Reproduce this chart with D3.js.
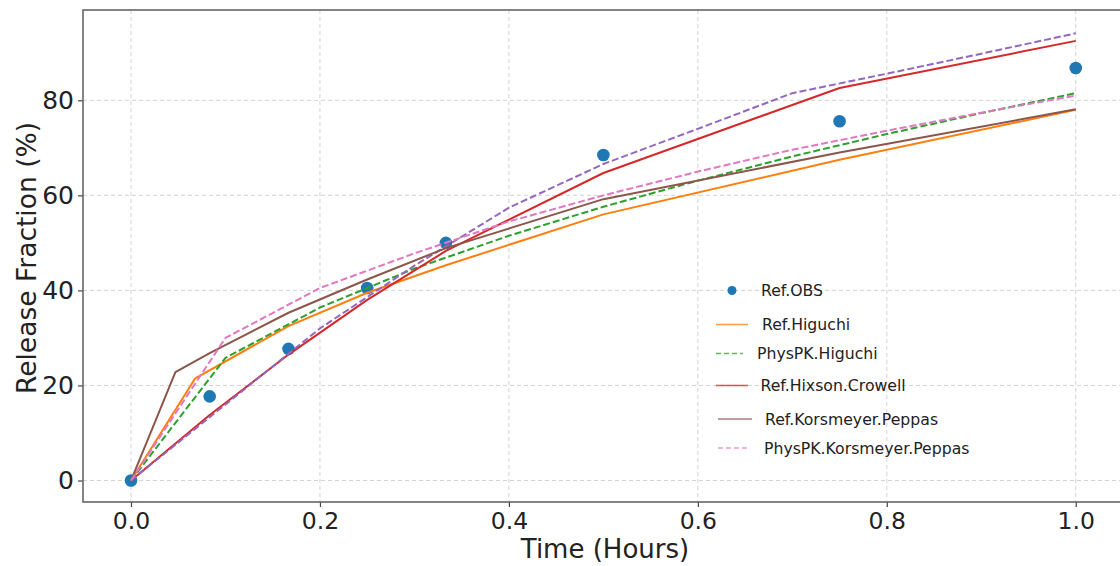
<!DOCTYPE html>
<html>
<head>
<meta charset="utf-8">
<script src="https://cdn.jsdelivr.net/npm/d3@7"></script>
<style>
  html, body { margin: 0; padding: 0; background: #fff; }
  svg { display: block; }
  text { font-family: "DejaVu Sans", sans-serif; }
</style>
</head>
<body>
<svg id="chart" width="1120" height="566"></svg>
<script>
// ---------- data ----------
const obsTime = [0, 0.0833, 0.1667, 0.25, 0.3333, 0.5, 0.75, 1.0];
const obsRelease = [0, 17.7, 27.7, 40.5, 50.0, 68.5, 75.6, 86.8];

const refHiguchiTime = [0, 0.068, 0.1667, 0.25, 0.3333, 0.5, 0.75, 1.0];
const refHiguchi = [0, 21.5, 32.5, 39.5, 45.3, 56.0, 67.5, 78.0];

const physTime = [0, 0.1, 0.2, 0.3, 0.4, 0.5, 0.6, 0.7, 0.8, 0.9, 1.0];
const physHiguchi = [0, 25.8, 36.4, 44.6, 51.5, 57.6, 63.1, 68.2, 72.9, 77.3, 81.5];

const refHixsonTime = [0, 0.0833, 0.1667, 0.25, 0.3333, 0.5, 0.75, 1.0];
const refHixson = [0, 13.8, 26.5, 38.0, 48.3, 64.7, 82.6, 92.5];

const physHixson = [0, 16.0, 32.0, 45.2, 57.4, 66.6, 74.0, 81.5, 85.6, 89.8, 94.1];

const refKPTime = [0, 0.047, 0.0833, 0.1667, 0.25, 0.3333, 0.5, 0.75, 1.0];
const refKP = [0, 22.8, 26.8, 35.3, 42.3, 48.9, 59.2, 69.0, 78.1];

const physKP = [0, 30.0, 40.5, 47.8, 54.5, 60.0, 65.0, 69.6, 73.6, 77.4, 81.0];

const xTicks = [0, 0.2, 0.4, 0.6, 0.8, 1.0];
const yTicks = [0, 20, 40, 60, 80];

const xLabel = "Time (Hours)";
const yLabel = "Release Fraction (%)";

// ---------- series definitions ----------
const series = [
  { name: "Ref.Higuchi", t: refHiguchiTime, v: refHiguchi, color: "#ff7f0e", dash: null, legend: true },
  { name: "PhysPK.Higuchi", t: physTime, v: physHiguchi, color: "#2ca02c", dash: "7,3", legend: true },
  { name: "Ref.Hixson.Crowell", t: refHixsonTime, v: refHixson, color: "#d62728", dash: null, legend: true },
  { name: "PhysPK.Hixson.Crowell", t: physTime, v: physHixson, color: "#9467bd", dash: "7,3", legend: false },
  { name: "Ref.Korsmeyer.Peppas", t: refKPTime, v: refKP, color: "#8c564b", dash: null, legend: true },
  { name: "PhysPK.Korsmeyer.Peppas", t: physTime, v: physKP, color: "#e377c2", dash: "7,3", legend: true }
];

// ---------- layout ----------
const svg = d3.select("#chart");
const plot = { left: 83, right: 1123, top: 10, bottom: 502 };

const x = d3.scaleLinear().domain([-0.0508, 1.05]).range([plot.left, plot.right]);
const y = d3.scaleLinear().domain([-4.52, 99.0]).range([plot.bottom, plot.top]);

svg.append("rect").attr("width", 1120).attr("height", 566).attr("fill", "#fff");

// grid
const grid = svg.append("g");
grid.selectAll("line.gx").data(xTicks).enter().append("line")
  .attr("x1", d => x(d)).attr("x2", d => x(d))
  .attr("y1", plot.top).attr("y2", plot.bottom)
  .attr("stroke", "#d3d3d3").attr("stroke-width", 1).attr("stroke-dasharray", "4,3");
grid.selectAll("line.gy").data(yTicks).enter().append("line")
  .attr("x1", plot.left).attr("x2", plot.right)
  .attr("y1", d => y(d)).attr("y2", d => y(d))
  .attr("stroke", "#d3d3d3").attr("stroke-width", 1).attr("stroke-dasharray", "4,3");

// observed points (plotted first)
svg.append("g").selectAll("circle").data(obsTime.map((t, i) => [t, obsRelease[i]]))
  .enter().append("circle")
  .attr("cx", d => x(d[0])).attr("cy", d => y(d[1])).attr("r", 6.3)
  .attr("fill", "#1f77b4");

// model lines
const line = d3.line().x(d => x(d[0])).y(d => y(d[1]));
series.forEach(s => {
  svg.append("path")
    .datum(s.t.map((t, i) => [t, s.v[i]]))
    .attr("d", line)
    .attr("fill", "none")
    .attr("stroke", s.color)
    .attr("stroke-width", 2)
    .attr("stroke-dasharray", s.dash)
    .attr("stroke-linejoin", "round");
});

// axes
const xAxis = d3.axisBottom(x).tickValues(xTicks).tickFormat(d3.format(".1f")).tickSize(5).tickPadding(5);
const yAxis = d3.axisLeft(y).tickValues(yTicks).tickFormat(d3.format("d")).tickSize(5).tickPadding(4);

const gx = svg.append("g").attr("transform", `translate(0,${plot.bottom})`).call(xAxis);
const gy = svg.append("g").attr("transform", `translate(${plot.left},0)`).call(yAxis);
[gx, gy].forEach(g => {
  g.select(".domain").remove();
  g.selectAll(".tick line").attr("stroke", "#444").attr("stroke-width", 1.2);
  g.selectAll(".tick text").attr("fill", "#222")
    .style("font-family", "DejaVu Sans, sans-serif");
});
gx.selectAll(".tick text").style("font-size", "23.5px");
gy.selectAll(".tick text").style("font-size", "25px");

// spines
svg.append("rect")
  .attr("x", plot.left).attr("y", plot.top)
  .attr("width", plot.right - plot.left).attr("height", plot.bottom - plot.top)
  .attr("fill", "none").attr("stroke", "#666").attr("stroke-width", 1.6);

// axis labels
svg.append("text")
  .attr("x", (plot.left + plot.right) / 2 + 2).attr("y", 558)
  .attr("text-anchor", "middle").attr("fill", "#222")
  .style("font-size", "26px").text(xLabel);

svg.append("text")
  .attr("transform", `translate(36,${(plot.top + plot.bottom) / 2 + 2}) rotate(-90)`)
  .attr("text-anchor", "middle").attr("fill", "#222")
  .style("font-size", "26.5px").text(yLabel);

// legend (entries placed as in the reference)
const legendItems = [
  { name: "Ref.OBS", kind: "dot", color: "#1f77b4", dash: null },
  ...series.filter(s => s.legend).map(s => ({ name: s.name, kind: "line", color: s.color, dash: s.dash }))
];
const legendPos = [
  { x1: 732, x2: 732, yy: 290.5, tx: 761 },
  { x1: 716, x2: 748, yy: 324.5, tx: 762 },
  { x1: 716, x2: 743, yy: 353.5, tx: 757 },
  { x1: 716, x2: 748, yy: 385.5, tx: 760.5 },
  { x1: 718, x2: 752, yy: 419, tx: 765 },
  { x1: 718, x2: 747, yy: 448, tx: 764 }
];
const lg = svg.append("g");
legendItems.forEach((it, i) => {
  const p = legendPos[i];
  if (it.kind === "dot") {
    lg.append("circle").attr("cx", p.x1).attr("cy", p.yy).attr("r", 4.5).attr("fill", it.color);
  } else {
    lg.append("line").attr("x1", p.x1).attr("x2", p.x2).attr("y1", p.yy).attr("y2", p.yy)
      .attr("stroke", it.color).attr("stroke-width", 1.6).attr("stroke-opacity", 0.75)
      .attr("stroke-dasharray", it.dash ? "5,3" : null);
  }
  lg.append("text").attr("x", p.tx).attr("y", p.yy).attr("dy", "0.36em")
    .attr("fill", "#222").style("font-size", "15.7px").text(it.name);
});
</script>
</body>
</html>
